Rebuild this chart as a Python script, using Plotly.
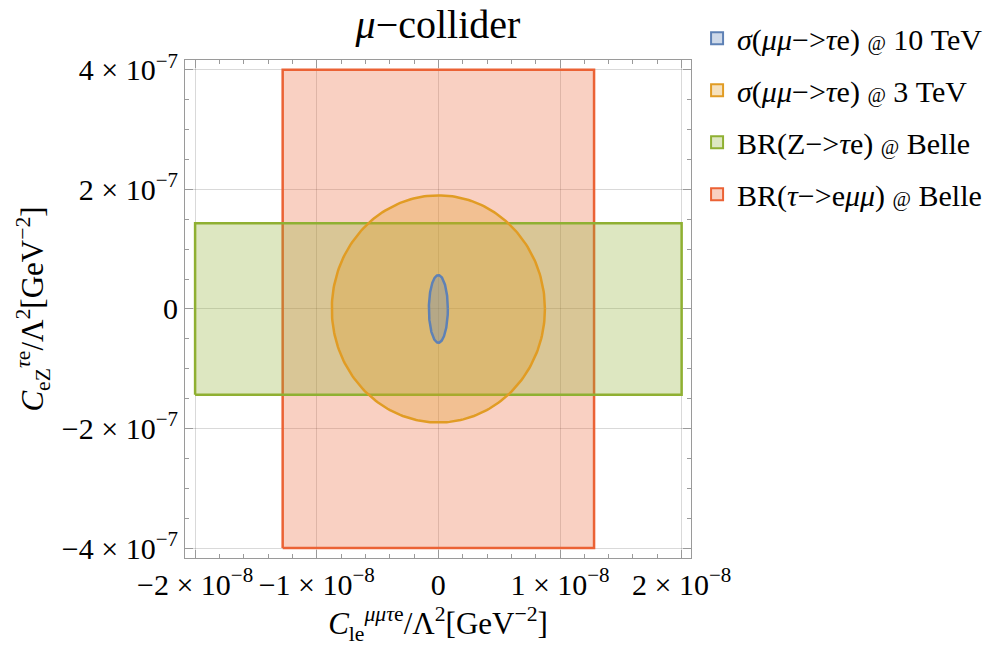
import numpy as np
import plotly.graph_objects as go

# ---- data ----
AT = "<span style='font-size:20px'>@</span>"
names = [
    f"<i>σ</i>(<i>μμ</i>−><i>τ</i>e) {AT} 10 TeV",
    f"<i>σ</i>(<i>μμ</i>−><i>τ</i>e) {AT} 3 TeV",
    f"BR(Z−><i>τ</i>e) {AT} Belle",
    f"BR(<i>τ</i>−>e<i>μμ</i>) {AT} Belle",
]
shape_kind = ["ellipse", "ellipse", "rect", "rect"]
x_half = [7.8e-10, 0.876e-8, 2.0e-8, 1.28e-8]      # half-widths in C_le
y_half = [5.65e-8, 1.90e-7, 1.435e-7, 4.0e-7]     # half-heights in C_eZ
line_colors = ["#5E81B5", "#E19C24", "#8FB032", "#EB6235"]
fill_colors = ["rgba(94,129,181,0.3)", "rgba(225,156,36,0.3)",
               "rgba(143,176,50,0.3)", "rgba(235,98,53,0.3)"]

x_tickvals = [-2e-8, -1e-8, 0, 1e-8, 2e-8]
x_ticktext = ["−2 × 10<sup>−8</sup>", "−1 × 10<sup>−8</sup>", "0",
              "1 × 10<sup>−8</sup>", "2 × 10<sup>−8</sup>"]
y_tickvals = [-4e-7, -2e-7, 0, 2e-7, 4e-7]
y_ticktext = ["−4 × 10<sup>−7</sup>", "−2 × 10<sup>−7</sup>", "0",
              "2 × 10<sup>−7</sup>", "4 × 10<sup>−7</sup>"]

FONT = "Liberation Serif"

fig = go.Figure()
t = np.linspace(0, 2 * np.pi, 241)
# draw red first (bottom), blue last (top)
for i in [3, 2, 1, 0]:
    if shape_kind[i] == "ellipse":
        xs = x_half[i] * np.cos(t)
        ys = y_half[i] * np.sin(t)
    else:
        xs = np.array([-1, 1, 1, -1, -1]) * x_half[i]
        ys = np.array([-1, -1, 1, 1, -1]) * y_half[i]
    fig.add_trace(go.Scatter(
        x=xs, y=ys, mode="lines", fill="toself",
        fillcolor=fill_colors[i],
        line=dict(color=line_colors[i], width=2.5),
        showlegend=False, hoverinfo="skip",
    ))

# legend swatches (square, filled, with coloured border)
for i in range(4):
    fig.add_trace(go.Bar(
        x=[None], y=[None], name=names[i],
        marker=dict(color=fill_colors[i], line=dict(color=line_colors[i], width=1.5)),
        legendgroup=f"g{i}", legendrank=i + 1, hoverinfo="skip",
    ))

axis_common = dict(
    showline=True, linecolor="#9a9a9a", linewidth=1, mirror="ticks",
    ticks="inside", ticklen=8, tickcolor="#9a9a9a", tickwidth=1,
    showgrid=True, gridcolor="rgba(0,0,0,0.15)", gridwidth=1,
    zeroline=False,
    tickfont=dict(family=FONT, size=30, color="black"),
)

fig.update_layout(
    width=1005, height=647,
    margin=dict(l=185, r=314, t=54, b=86),
    paper_bgcolor="white", plot_bgcolor="white",
    font=dict(family=FONT, color="black"),
    title=dict(text="<i>μ</i>−collider", x=0.5, xref="paper", xanchor="center",
               y=0.985, yanchor="top", font=dict(family=FONT, size=40, color="black")),
    showlegend=True,
    legend=dict(x=1.012, xanchor="left", y=1.096, yanchor="top",
                font=dict(family=FONT, size=30, color="black"),
                tracegroupgap=10, itemsizing="constant",
                bgcolor="rgba(0,0,0,0)"),
    xaxis=dict(
        range=[-2.083e-8, 2.077e-8],
        tickvals=x_tickvals, ticktext=x_ticktext,
        minor=dict(dtick=0.2e-8, tick0=0, ticks="inside", ticklen=4,
                   tickcolor="#9a9a9a", showgrid=False),
        title=dict(text="<i>C</i><sub>le</sub><sup><i>μμτ</i>e</sup>/Λ<sup>2</sup>[GeV<sup>−2</sup>]",
                   font=dict(family=FONT, size=31, color="black"), standoff=12),
        **axis_common,
    ),
    yaxis=dict(
        range=[-4.167e-7, 4.165e-7],
        tickvals=y_tickvals, ticktext=y_ticktext,
        minor=dict(dtick=0.5e-7, tick0=0, ticks="inside", ticklen=4,
                   tickcolor="#9a9a9a", showgrid=False),
        title=dict(text="<i>C</i><sub>eZ</sub><sup><i>τ</i>e</sup>/Λ<sup>2</sup>[GeV<sup>−2</sup>]",
                   font=dict(family=FONT, size=31, color="black"), standoff=8),
        **axis_common,
    ),
)

fig.write_html("out.html")
